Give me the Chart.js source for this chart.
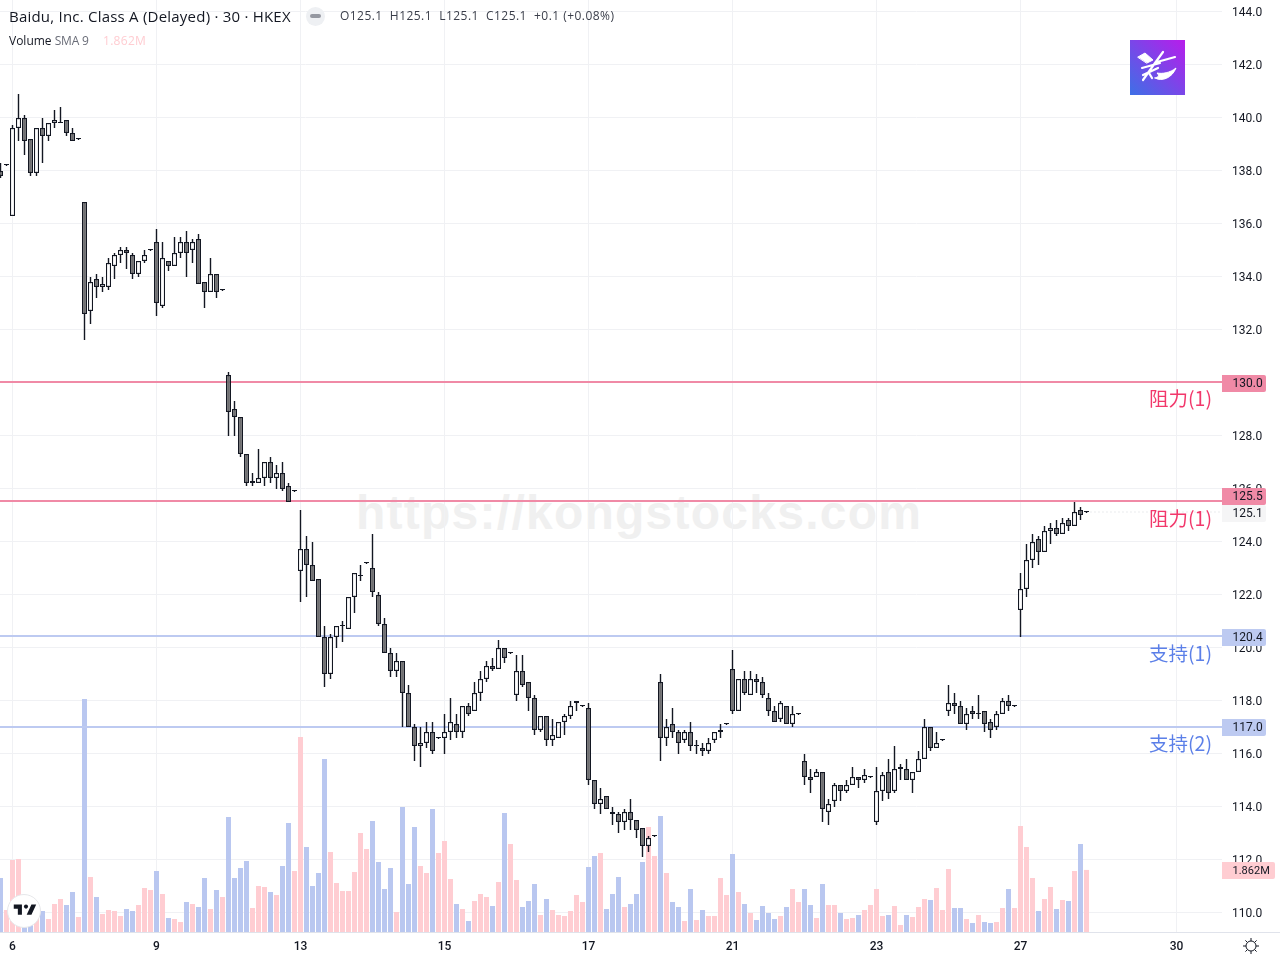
<!DOCTYPE html>
<html>
<head>
<meta charset="utf-8">
<title>Baidu 30m</title>
<script src="https://cdn.jsdelivr.net/npm/chart.js@4"></script>
<style>
  html, body { margin: 0; padding: 0; background: #fff; overflow: hidden; }
  #wrap { position: relative; width: 1280px; height: 960px; font-family: "Open Sans", sans-serif; color: #131722; }
  #chart { position: absolute; left: 0; top: 0; z-index: 1; }
  .over { position: absolute; z-index: 2; white-space: nowrap; }
  #mark { position: absolute; z-index: 0; left: 356px; top: 485px; font: bold 48px "Liberation Sans", sans-serif; color: #f0f0f0; letter-spacing: 1.25px; }
  #title { left: 9px; top: 7px; font-size: 15px; line-height: 18px; letter-spacing: 0.22px; }
  #ohlc { left: 340px; top: 8px; font-size: 12px; line-height: 16px; letter-spacing: 0.46px; color: #3a3e4a; }
  #vol { left: 9px; top: 33px; font-size: 12px; line-height: 16px; }
  #vol .s { color: #6a6d78; font-size: 12px; letter-spacing: -0.2px; }
  #vol .v { color: #ffcdd2; position: absolute; left: 94px; top: 0; font-size: 12px; letter-spacing: 0.3px; }
  #btn { left: 306px; top: 7px; width: 19px; height: 19px; border-radius: 10px; background: #eef0f3; }
  #btn i { position: absolute; left: 4px; top: 7px; width: 11px; height: 4px; border-radius: 2px; background: #9598a1; }
  #logo { left: 1130px; top: 40px; width: 55px; height: 55px; background: linear-gradient(45deg, #3d70e6, #b81ceb); }
</style>
</head>
<body>
<div id="wrap">
  <div id="mark">https://kongstocks.com</div>
  <canvas id="chart" width="1280" height="960"></canvas>
  <div class="over" id="title">Baidu, Inc. Class A (Delayed) · 30 · HKEX</div>
  <div class="over" id="btn"><i></i></div>
  <div class="over" id="ohlc">O125.1 &nbsp;H125.1 &nbsp;L125.1 &nbsp;C125.1 &nbsp;+0.1 (+0.08%)</div>
  <div class="over" id="vol">Volume <span class="s">SMA 9</span><span class="v">1.862M</span></div>
  <div class="over" id="logo">
    <svg width="55" height="55" viewBox="0 0 55 55" fill="none" stroke="#fff" stroke-linecap="round">
      <path d="M8 17 L15 13 L23 20 L17 23 Z" fill="#fff" stroke-width="1"/>
      <path d="M33 12 L25 23 L13 40 M45 17 L27 22 M12 28 L30 23 M13 35 L28 28 M19 33 L22 38" stroke-width="2.2"/>
      <path d="M25 38 C32 42 42 38 46 28 C40 33 32 34 27 33 C30 36 28 37 25 38 Z" fill="#fff" stroke-width="1"/>
    </svg>
  </div>
  <div class="over" style="left:6px;top:893px;width:36px;height:36px;">
    <svg width="36" height="36" viewBox="0 0 36 36">
      <circle cx="18" cy="18" r="16.5" fill="#fff" stroke="#e6e7ea" stroke-width="1"/>
      <g transform="translate(6.4 7.5) scale(0.68)"><path fill="#131722" d="M14 6H2v6h6v9h6V6zm14 15h-7l7-15h7l-7 15z"/><circle fill="#131722" cx="20" cy="9" r="3"/></g>
    </svg>
  </div>
  <div class="over" style="left:1242px;top:937px;width:18px;height:18px;">
    <svg width="18" height="18" viewBox="0 0 18 18" fill="none" stroke="#131722" stroke-width="1">
      <circle cx="9" cy="9" r="5"/>
      <path d="M9 1v3M9 14v3M1 9h3M14 9h3M3.4 3.4l2 2M12.6 12.6l2 2M14.6 3.4l-2 2M5.4 12.6l-2 2"/>
    </svg>
  </div>
</div>
<script>
// 30 minute bars
const opens = [138.0,138.2,136.3,139.6,140.0,139.2,137.9,139.6,139.3,139.8,139.8,139.9,139.4,139.2,136.8,132.7,133.9,133.6,133.6,134.4,134.8,135.0,134.8,134.1,134.6,135.0,135.3,132.9,134.6,134.4,134.9,135.3,135.0,135.4,133.8,133.4,134.1,133.5,
  130.3,129.0,128.7,127.3,126.2,126.2,126.4,127.0,126.4,126.6,126.1,125.9,122.9,123.7,123.1,122.6,120.4,119.0,120.4,120.8,120.7,121.9,122.7,123.2,123.0,122.0,120.9,119.8,119.1,119.5,118.3,117.0,116.3,116.4,116.8,116.6,
  116.6,116.8,117.1,116.8,117.8,117.6,118.3,118.8,119.3,119.2,120.0,119.8,118.2,119.1,118.7,118.1,116.9,117.4,116.5,116.6,117.2,117.4,117.9,117.8,117.7,115.0,114.1,114.4,113.8,113.7,113.4,113.8,113.5,113.2,112.5,112.9,
  118.7,116.6,117.1,116.8,116.5,116.8,116.3,116.2,116.1,116.5,116.8,117.1,119.2,117.6,118.8,118.2,118.8,118.7,118.1,117.6,117.3,117.8,117.1,117.5,115.7,115.1,115.1,115.3,113.8,114.2,114.8,114.6,114.8,115.1,115.0,115.1,
  113.4,114.6,115.3,114.6,115.4,115.4,115.0,115.3,115.8,117.0,116.2,116.5,117.6,117.9,117.8,117.1,117.6,117.5,117.6,117.2,117.0,117.5,118.0,117.8,121.4,122.2,123.3,124.1,123.6,124.4,124.5,124.3,124.8,124.6,125.2,125.1];
const highs = [138.3,138.2,139.7,140.9,140.1,139.2,139.6,140.0,139.8,140.3,140.4,139.9,139.6,139.2,136.8,134.0,134.1,134.0,134.7,134.9,135.1,135.1,134.9,134.6,135.0,135.0,135.8,135.3,134.6,135.5,135.5,135.7,135.4,135.6,133.8,134.7,134.1,133.5,
  130.4,129.3,128.7,127.3,126.6,127.5,127.0,127.2,126.9,127.0,126.2,125.9,125.2,124.2,124.0,122.6,120.8,120.5,120.8,121.0,121.9,122.8,123.1,123.2,124.3,122.1,121.1,120.0,119.8,119.5,118.6,117.1,117.0,117.2,117.2,116.6,
  117.5,118.1,117.5,117.8,117.9,118.7,119.1,119.5,119.6,120.3,120.0,119.8,119.7,119.7,118.7,118.2,117.4,117.4,117.3,117.2,117.5,118.0,118.0,117.8,117.9,115.0,114.7,114.4,114.0,113.8,113.9,114.3,113.5,113.2,112.9,112.9,
  119.0,117.3,117.7,116.9,116.9,117.2,116.5,116.4,116.6,116.8,117.1,117.1,119.9,118.8,119.1,119.1,119.0,118.9,118.3,117.8,118.0,117.8,117.8,117.5,116.0,115.4,115.4,115.3,114.3,114.9,114.8,115.0,115.5,115.1,115.4,115.1,
  115.5,115.3,115.8,116.3,115.6,115.8,115.3,116.1,117.3,117.0,116.8,116.5,118.6,118.3,118.0,117.7,117.8,118.2,117.6,117.3,117.6,118.1,118.2,117.8,122.8,123.9,124.3,124.2,124.6,124.7,124.8,124.9,124.9,125.5,125.3,125.1];
const lows = [137.7,138.2,136.3,139.1,138.6,137.8,137.8,138.3,139.1,139.6,139.8,139.3,139.1,139.2,131.6,132.2,133.2,133.4,133.5,133.9,134.5,134.3,133.9,134.0,134.5,135.0,132.5,132.8,134.2,134.4,134.7,134.0,134.5,133.7,132.8,133.4,133.2,133.5,
  128.0,128.0,127.2,126.1,126.1,126.2,126.1,126.2,126.0,125.9,125.5,125.9,121.7,121.9,122.5,120.4,118.5,118.8,120.0,120.2,120.7,121.3,122.5,123.2,121.9,120.8,119.8,118.9,118.9,117.0,117.0,115.7,115.5,116.2,116.0,116.6,
  116.0,116.5,116.6,116.6,117.4,117.6,118.0,118.7,119.1,119.2,119.4,119.8,118.0,118.5,117.6,116.7,116.8,116.3,116.3,116.6,116.7,117.3,117.6,117.8,114.8,113.9,113.7,113.9,113.3,113.0,113.1,113.1,112.8,112.1,112.3,112.9,
  115.7,116.3,116.6,116.0,116.4,116.1,116.0,115.9,116.0,116.4,116.6,117.1,117.5,117.6,118.2,118.2,118.3,118.1,117.4,117.2,117.2,117.1,117.0,117.5,114.8,114.5,115.1,113.4,113.3,114.0,114.2,114.5,114.8,114.7,114.9,115.1,
  113.3,114.2,114.3,114.5,115.0,115.0,114.5,115.3,115.8,116.1,116.2,116.5,117.4,117.5,117.1,116.9,117.3,117.3,116.8,116.6,116.9,117.5,117.6,117.8,120.4,121.9,123.0,123.1,123.6,123.9,124.2,124.3,124.4,124.6,124.8,125.1];
const closes = [137.8,138.2,139.6,140.0,139.1,137.9,139.6,139.3,139.8,139.9,139.8,139.4,139.1,139.2,132.6,133.8,133.6,133.7,134.5,134.8,135.0,134.9,134.1,134.6,134.8,135.0,133.0,134.7,134.4,134.9,135.3,134.9,135.3,133.7,133.4,134.1,133.4,133.5,
  128.9,128.7,127.3,126.2,126.3,126.4,127.0,126.4,126.6,126.0,125.5,125.9,123.7,123.1,122.5,120.4,119.0,120.4,120.8,120.8,121.9,122.8,122.7,123.2,122.1,120.9,119.8,119.1,119.5,118.3,117.0,116.3,116.4,116.8,116.1,116.6,
  116.8,117.2,116.8,117.8,117.5,118.3,118.8,119.3,119.2,120.0,119.6,119.8,119.1,118.6,118.1,116.9,117.4,116.5,116.7,117.2,117.4,117.8,118.0,117.8,115.0,114.1,114.3,113.9,113.7,113.4,113.8,113.5,113.1,112.5,112.8,112.9,
  116.6,117.0,116.8,116.4,116.8,116.3,116.3,116.1,116.4,116.8,116.9,117.1,117.6,118.8,118.3,118.8,118.7,118.2,117.6,117.2,117.9,117.1,117.5,117.5,115.1,115.0,115.3,113.9,114.1,114.8,114.6,114.8,115.1,115.0,115.2,115.1,
  114.6,115.2,114.5,115.4,115.5,115.0,115.3,115.8,117.0,116.2,116.4,116.5,117.9,117.8,117.1,117.5,117.5,117.5,117.1,116.9,117.5,118.0,117.8,117.8,122.2,123.3,124.0,123.6,124.4,124.5,124.3,124.7,124.6,125.1,125.0,125.1];
const volumes = [1.62,.66,2.16,2.19,.66,.70,.75,.63,.39,.84,.99,.81,1.20,.45,6.99,1.65,1.05,.54,.66,.63,.48,.69,.63,.81,1.32,1.26,1.83,1.14,.42,.39,.30,.90,.84,.75,1.62,.69,1.26,1.05,
  3.45,1.62,1.92,2.13,.72,1.38,1.35,1.20,1.11,1.98,3.27,1.83,5.85,2.55,1.38,1.77,5.19,2.40,1.47,1.23,1.23,1.80,2.97,2.49,3.33,2.10,1.29,1.92,.60,3.75,1.44,3.15,1.98,1.77,3.69,2.37,
  2.73,1.59,.84,.69,.33,.93,1.14,1.05,.78,1.50,3.57,2.64,1.56,.75,.93,1.44,.51,.99,.66,.51,.48,.63,1.11,.90,1.95,2.28,2.37,.69,1.14,1.65,.75,.84,1.14,2.10,3.15,2.28,
  3.48,1.77,.90,.75,.33,1.29,.36,.66,.48,.48,1.62,1.11,2.34,1.20,.84,.57,.36,.78,.57,.39,.48,.75,1.29,.90,1.29,.81,.42,1.44,.81,.81,.57,.39,.42,.51,.66,.81,
  1.29,.48,.51,.78,.21,.51,.45,.75,.99,.96,1.32,.66,1.89,.72,.72,.39,.27,.51,.30,.27,.30,.72,1.29,.72,3.18,2.55,1.62,.63,.99,1.35,.69,.96,.93,1.83,2.64,1.862];

const dayLabels = ['6', '9', '13', '15', '17', '21', '23', '27', '30'];
const dayBars = [2, 26, 50, 74, 98, 122, 146, 170, 196];
const priceTicks = [110, 112, 114, 116, 118, 120, 122, 124, 126, 128, 130, 132, 134, 136, 138, 140, 142, 144];

const levelPrices = [130.0, 125.5, 120.4, 117.0];
const levelNames = ['阻力(1)', '阻力(1)', '支持(1)', '支持(2)'];
const levelKinds = ['res', 'res', 'sup', 'sup'];
const lastPrice = 125.1;
const lastVolume = '1.862M';

const TICK_FONT = 'Roboto, sans-serif';
const X_MIN = -0.0833;
const X_MAX = X_MIN + 1222 / 6;
const lineColor = { res: '#f08aa6', sup: '#bdcaf1' };
const textColor = { res: '#f2386b', sup: '#5b7fe8' };

const idx = closes.map((c, i) => i);
const isUp = idx.map(i => closes[i] >= opens[i]);

// keep candles and level lines on whole pixels so they stay crisp
const snap = {
  id: 'snap',
  afterDatasetsUpdate(chart) {
    chart.data.datasets.forEach((ds, d) => {
      const meta = chart.getDatasetMeta(d);
      if (ds.label === 'body' || ds.label === 'wick') {
        meta.data.forEach(el => {
          el.y = Math.round(el.y);
          el.base = Math.round(el.base);
          if (el.y === el.base) el.base = el.y + 1;
        });
      } else if (meta.type === 'line') {
        meta.data.forEach(pt => { pt.y = Math.floor(pt.y); });
      }
    });
  }
};

// tags on the price axis and the names above the levels
const overlay = {
  id: 'overlay',
  afterDraw(chart) {
    const ctx = chart.ctx;
    const y = chart.scales.y;
    const yv = chart.scales.yVol;
    const right = chart.chartArea.right;
    ctx.save();
    ctx.strokeStyle = '#e0e3eb';
    ctx.lineWidth = 1;
    ctx.beginPath();
    ctx.moveTo(0, chart.chartArea.bottom + 0.5);
    ctx.lineTo(1280, chart.chartArea.bottom + 0.5);
    ctx.stroke();

    const tag = (cy, w, bg, txt, size) => {
      ctx.fillStyle = bg;
      ctx.beginPath();
      ctx.roundRect(right, Math.round(cy) - 8, w, 17, [0, 2, 2, 0]);
      ctx.fill();
      ctx.fillStyle = '#131722';
      ctx.font = (size || 12) + 'px ' + TICK_FONT;
      ctx.textAlign = 'left';
      ctx.textBaseline = 'middle';
      ctx.fillText(txt, right + 10.5, Math.round(cy) + 1);
    };
    tag(y.getPixelForValue(lastPrice) + 0.5, 44, '#f5f5f6', lastPrice.toFixed(1));
    levelPrices.forEach((p, i) => {
      const py = y.getPixelForValue(p);
      // 125.5 sits too close to the last price tag, so it moves up
      const shift = p === 125.5 ? -6 : 0;
      tag(py + shift, 44, lineColor[levelKinds[i]], p.toFixed(1));
      ctx.fillStyle = textColor[levelKinds[i]];
      ctx.font = '19.5px "Noto Sans CJK SC", sans-serif';
      ctx.textAlign = 'right';
      ctx.textBaseline = 'middle';
      ctx.fillText(levelNames[i], 1212, py + 16.5);
    });
    tag(yv.getPixelForValue(volumes[volumes.length - 1]), 53, '#ffcdd2', lastVolume, 11);
    ctx.restore();
  }
};

const ctx = document.getElementById('chart').getContext('2d');
new Chart(ctx, {
  type: 'bar',
  plugins: [snap, overlay],
  data: {
    datasets: [
      {
        label: 'body',
        order: 0,
        grouped: false,
        xAxisID: 'x',
        yAxisID: 'y',
        data: idx.map(i => ({ x: i, y: [opens[i], closes[i]] })),
        barThickness: 5,
        minBarLength: 1,
        inflateAmount: 0,
        borderSkipped: false,
        borderWidth: 1.2,
        borderColor: '#131722',
        backgroundColor: idx.map(i => isUp[i] ? '#ffffff' : '#6e6e70')
      },
      {
        label: 'wick',
        order: 1,
        grouped: false,
        xAxisID: 'x',
        yAxisID: 'y',
        data: idx.map(i => ({ x: i, y: [lows[i], highs[i]] })),
        barThickness: 1.4,
        inflateAmount: 0,
        borderWidth: 0,
        backgroundColor: '#131722'
      },
      ...levelPrices.map((p, i) => ({
        type: 'line',
        order: 2,
        xAxisID: 'x',
        yAxisID: 'y',
        data: [{ x: X_MIN, y: p }, { x: X_MAX, y: p }],
        borderColor: lineColor[levelKinds[i]],
        borderWidth: 2,
        pointRadius: 0
      })),
      {
        type: 'line',
        order: 2,
        xAxisID: 'x',
        yAxisID: 'y',
        data: [{ x: closes.length - 1, y: lastPrice }, { x: X_MAX, y: lastPrice }],
        borderColor: '#d5d7dc',
        borderWidth: 1,
        borderDash: [1, 3],
        pointRadius: 0
      },
      {
        label: 'volume',
        order: 3,
        grouped: false,
        xAxisID: 'x',
        yAxisID: 'yVol',
        data: idx.map(i => ({ x: i, y: volumes[i] })),
        barThickness: 5,
        inflateAmount: 0,
        backgroundColor: idx.map(i => isUp[i] ? '#ffcdd2' : '#b9c7f0')
      }
    ]
  },
  options: {
    responsive: false,
    animation: false,
    parsing: { xAxisKey: 'x', yAxisKey: 'y' },
    layout: { padding: 0 },
    plugins: { legend: { display: false }, tooltip: { enabled: false } },
    events: [],
    scales: {
      x: {
        type: 'linear',
        min: X_MIN,
        max: X_MAX,
        offset: false,
        border: { display: false },
        grid: { offset: false, color: '#f0f1f4', lineWidth: 1, drawTicks: false },
        afterBuildTicks(s) { s.ticks = dayBars.map(v => ({ value: v })); },
        afterFit(s) { s.height = 28; s.paddingLeft = 0; s.paddingRight = 0; },
        ticks: {
          autoSkip: false,
          maxRotation: 0,
          padding: 8,
          color: '#131722',
          font: { family: TICK_FONT, size: 12, weight: '500' },
          callback(v) { return dayLabels[dayBars.indexOf(v)]; }
        }
      },
      y: {
        position: 'right',
        min: 144 - (932 - 11.5) / 26.5,
        max: 144 + 11.5 / 26.5,
        border: { display: false },
        grid: { color: '#f0f1f4', lineWidth: 1, drawTicks: false },
        afterBuildTicks(s) { s.ticks = priceTicks.map(v => ({ value: v })); },
        afterFit(s) { s.width = 58; s.paddingTop = 0; s.paddingBottom = 0; },
        ticks: {
          autoSkip: false,
          padding: 10,
          labelOffset: 1,
          color: '#131722',
          font: { family: TICK_FONT, size: 12 },
          callback(v) { return v.toFixed(1); }
        }
      },
      yVol: {
        display: false,
        position: 'left',
        min: 0,
        max: 27.96
      }
    }
  }
});
</script>
</body>
</html>
